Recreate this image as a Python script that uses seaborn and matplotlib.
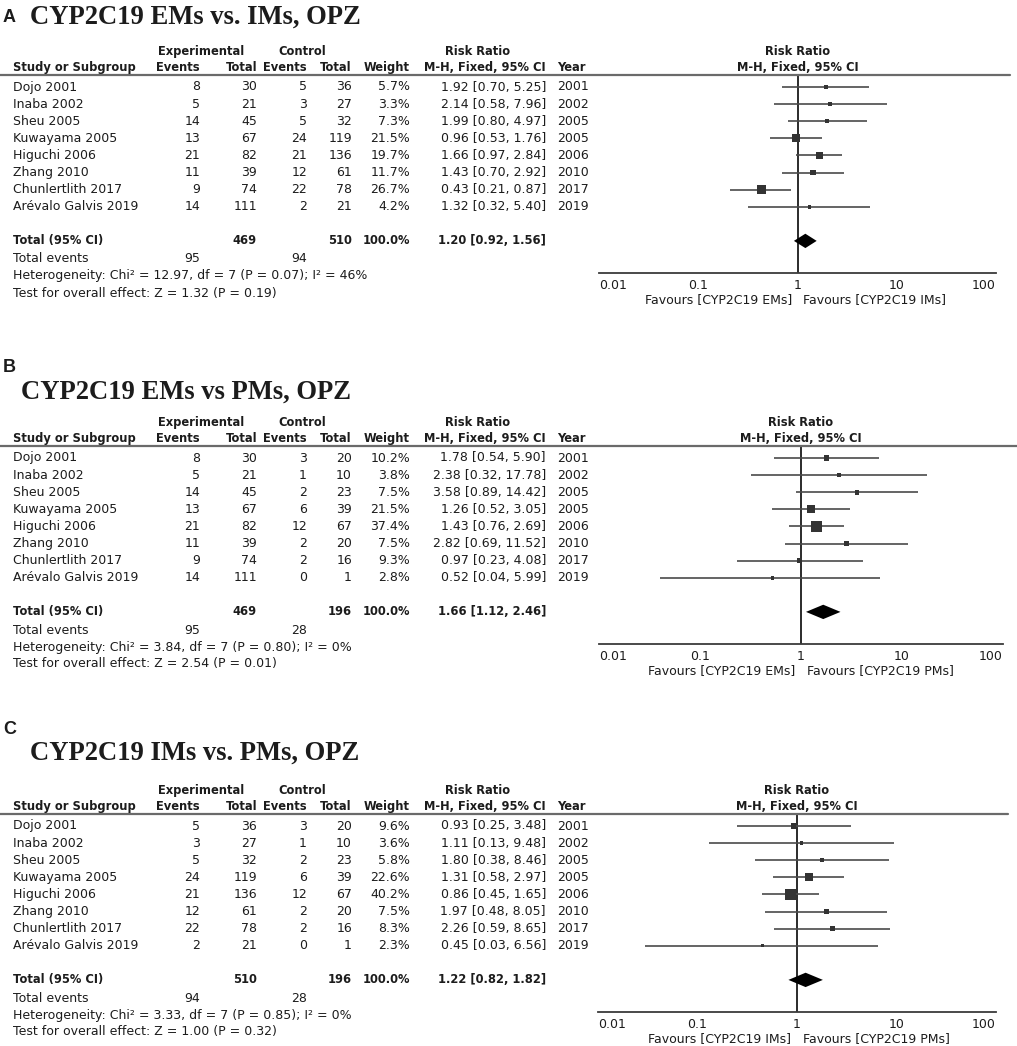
import numpy as np
import matplotlib
matplotlib.use("Agg")
import matplotlib.pyplot as plt
from matplotlib.lines import Line2D
from matplotlib.ticker import NullLocator
import seaborn as sns

# ---------------- data ----------------
studies = ["Dojo 2001", "Inaba 2002", "Sheu 2005", "Kuwayama 2005", "Higuchi 2006",
           "Zhang 2010", "Chunlertlith 2017", "Arévalo Galvis 2019"]
years = [2001, 2002, 2005, 2005, 2006, 2010, 2017, 2019]

# Panel A: EMs vs IMs
a_exp_events = [8, 5, 14, 13, 21, 11, 9, 14]
a_exp_total = [30, 21, 45, 67, 82, 39, 74, 111]
a_ctl_events = [5, 3, 5, 24, 21, 12, 22, 2]
a_ctl_total = [36, 27, 32, 119, 136, 61, 78, 21]
a_weight = [5.7, 3.3, 7.3, 21.5, 19.7, 11.7, 26.7, 4.2]
a_rr = [1.92, 2.14, 1.99, 0.96, 1.66, 1.43, 0.43, 1.32]
a_lo = [0.70, 0.58, 0.80, 0.53, 0.97, 0.70, 0.21, 0.32]
a_hi = [5.25, 7.96, 4.97, 1.76, 2.84, 2.92, 0.87, 5.40]
a_total = [1.20, 0.92, 1.56]
a_sums = [469, 510, 95, 94]
a_het = "Heterogeneity: Chi² = 12.97, df = 7 (P = 0.07); I² = 46%"
a_test = "Test for overall effect: Z = 1.32 (P = 0.19)"
a_favours = ["Favours [CYP2C19 EMs]", "Favours [CYP2C19 IMs]"]

# Panel B: EMs vs PMs
b_exp_events = [8, 5, 14, 13, 21, 11, 9, 14]
b_exp_total = [30, 21, 45, 67, 82, 39, 74, 111]
b_ctl_events = [3, 1, 2, 6, 12, 2, 2, 0]
b_ctl_total = [20, 10, 23, 39, 67, 20, 16, 1]
b_weight = [10.2, 3.8, 7.5, 21.5, 37.4, 7.5, 9.3, 2.8]
b_rr = [1.78, 2.38, 3.58, 1.26, 1.43, 2.82, 0.97, 0.52]
b_lo = [0.54, 0.32, 0.89, 0.52, 0.76, 0.69, 0.23, 0.04]
b_hi = [5.90, 17.78, 14.42, 3.05, 2.69, 11.52, 4.08, 5.99]
b_total = [1.66, 1.12, 2.46]
b_sums = [469, 196, 95, 28]
b_het = "Heterogeneity: Chi² = 3.84, df = 7 (P = 0.80); I² = 0%"
b_test = "Test for overall effect: Z = 2.54 (P = 0.01)"
b_favours = ["Favours [CYP2C19 EMs]", "Favours [CYP2C19 PMs]"]

# Panel C: IMs vs PMs
c_exp_events = [5, 3, 5, 24, 21, 12, 22, 2]
c_exp_total = [36, 27, 32, 119, 136, 61, 78, 21]
c_ctl_events = [3, 1, 2, 6, 12, 2, 2, 0]
c_ctl_total = [20, 10, 23, 39, 67, 20, 16, 1]
c_weight = [9.6, 3.6, 5.8, 22.6, 40.2, 7.5, 8.3, 2.3]
c_rr = [0.93, 1.11, 1.80, 1.31, 0.86, 1.97, 2.26, 0.45]
c_lo = [0.25, 0.13, 0.38, 0.58, 0.45, 0.48, 0.59, 0.03]
c_hi = [3.48, 9.48, 8.46, 2.97, 1.65, 8.05, 8.65, 6.56]
c_total = [1.22, 0.82, 1.82]
c_sums = [510, 196, 94, 28]
c_het = "Heterogeneity: Chi² = 3.33, df = 7 (P = 0.85); I² = 0%"
c_test = "Test for overall effect: Z = 1.00 (P = 0.32)"
c_favours = ["Favours [CYP2C19 IMs]", "Favours [CYP2C19 PMs]"]

axis_ticks = [0.01, 0.1, 1, 10, 100]
axis_labels = ["0.01", "0.1", "1", "10", "100"]

# ---------------- style ----------------
W, H = 1017, 1046
sns.set_theme(style="white")
plt.rcParams['font.family'] = ['DejaVu Sans']
TXT = "#1c1c1c"
FS = 9.0
FSB = 8.3

fig = plt.figure(figsize=(W / 100, H / 100), dpi=100)
fig.patch.set_facecolor("white")


def fx(x):
    return x / W


def fy(y):
    return 1 - y / H


def txt(x, y, s, ha="left", bold=False, size=None, family=None, va="center"):
    kw = {}
    if family:
        kw["family"] = family
    fig.text(fx(x), fy(y), s, ha=ha, va=va,
             fontsize=size if size else (FSB if bold else FS),
             fontweight="bold" if bold else "normal", color=TXT, **kw)


# column layout (pixels)
X_STUDY, X_EE, X_ET, X_CE, X_CT, X_W, X_CI, X_YEAR = 13, 200, 257, 307, 352, 410, 546, 557
ROW0, ROWH = 12, 17.1


def panel(letter, title, title_x, letter_y, title_y, y0, xl, xr, line_r,
          ee, et, ce, ct, wt, rr, lo, hi, tot, sums, het, test, favours):
    # titles
    txt(3, letter_y, letter, bold=True, size=13, family=["Liberation Sans"])
    txt(title_x, title_y, title, bold=True, size=19.2, family=["Liberation Serif"])
    # headers
    h1, h2 = y0 - 23.5, y0 - 7.5
    txt(201, h1, "Experimental", ha="center", bold=True)
    txt(302, h1, "Control", ha="center", bold=True)
    txt(478, h1, "Risk Ratio", ha="center", bold=True)
    txt(X_STUDY, h2, "Study or Subgroup", bold=True)
    txt(X_EE, h2, "Events", ha="right", bold=True)
    txt(X_ET, h2, "Total", ha="right", bold=True)
    txt(X_CE, h2, "Events", ha="right", bold=True)
    txt(X_CT, h2, "Total", ha="right", bold=True)
    txt(X_W, h2, "Weight", ha="right", bold=True)
    txt(X_CI, h2, "M-H, Fixed, 95% CI", ha="right", bold=True)
    txt(X_YEAR, h2, "Year", bold=True)
    fig.add_artist(Line2D([0, fx(line_r)], [fy(y0), fy(y0)], color="#6a6a6a", lw=1.6))
    # rows
    for i in range(len(studies)):
        y = y0 + ROW0 + ROWH * i
        txt(X_STUDY, y, studies[i])
        txt(X_EE, y, str(ee[i]), ha="right")
        txt(X_ET, y, str(et[i]), ha="right")
        txt(X_CE, y, str(ce[i]), ha="right")
        txt(X_CT, y, str(ct[i]), ha="right")
        txt(X_W, y, f"{wt[i]:.1f}%", ha="right")
        txt(X_CI, y, f"{rr[i]:.2f} [{lo[i]:.2f}, {hi[i]:.2f}]", ha="right")
        txt(X_YEAR, y, str(years[i]))
    yt = y0 + ROW0 + ROWH * 9
    txt(X_STUDY, yt, "Total (95% CI)", bold=True)
    txt(X_ET, yt, str(sums[0]), ha="right", bold=True)
    txt(X_CT, yt, str(sums[1]), ha="right", bold=True)
    txt(X_W, yt, "100.0%", ha="right", bold=True)
    txt(X_CI, yt, f"{tot[0]:.2f} [{tot[1]:.2f}, {tot[2]:.2f}]", ha="right", bold=True)
    txt(X_STUDY, y0 + 184, "Total events")
    txt(X_EE, y0 + 184, str(sums[2]), ha="right")
    txt(X_CE, y0 + 184, str(sums[3]), ha="right")
    txt(X_STUDY, y0 + 201, het)
    txt(X_STUDY, y0 + 218, test)

    # right-side header
    xmid = (xl + xr) / 2
    txt(xmid, h1, "Risk Ratio", ha="center", bold=True)
    txt(xmid, h2, "M-H, Fixed, 95% CI", ha="center", bold=True)

    # forest axes
    axh = 198
    ax = fig.add_axes([fx(xl), fy(y0 + axh), (xr - xl) / W, axh / H])
    ax.set_xscale("log")
    ax.set_xlim(0.01, 100)
    top = -ROW0 / ROWH
    bottom = (axh - ROW0) / ROWH
    ax.set_ylim(bottom, top)
    ax.patch.set_alpha(0)
    for s in ["top", "left", "right"]:
        ax.spines[s].set_visible(False)
    ax.spines["bottom"].set_color("#3a3a3a")
    ax.spines["bottom"].set_linewidth(1.3)
    ax.set_xticks(axis_ticks)
    ax.set_xticklabels(axis_labels)
    ax.xaxis.set_minor_locator(NullLocator())
    ax.set_yticks([])
    ax.tick_params(axis="x", direction="inout", length=6, width=1.2, color="#3a3a3a",
                   pad=1.5, labelsize=FS, labelcolor=TXT)
    labs = ax.get_xticklabels()
    labs[0].set_horizontalalignment("left")
    labs[-1].set_horizontalalignment("right")
    ax.grid(False)

    rows = np.arange(len(studies))
    ax.axvline(1, color="#1a1a1a", lw=1.3, zorder=1)
    ax.hlines(rows, lo, hi, color="#4a4a4a", lw=1.2, zorder=2)
    side_px = np.maximum(1.7 * np.sqrt(np.array(wt)), 3.6)
    sizes = (side_px * 0.72) ** 2
    sns.scatterplot(x=rr, y=rows, marker="s", s=sizes, color="#333333",
                    edgecolor="none", linewidth=0, ax=ax, legend=False, zorder=3)
    hh = 0.42
    ax.fill([tot[1], tot[0], tot[2], tot[0]], [9, 9 - hh, 9, 9 + hh],
            color="black", zorder=4, lw=0)
    ax.set_xlabel("")
    ax.set_ylabel("")
    ax.annotate(favours[0], xy=(1, 0), xycoords=("data", "axes fraction"),
                xytext=(-4, -19), textcoords="offset points", ha="right", va="center",
                fontsize=FS, color=TXT)
    ax.annotate(favours[1], xy=(1, 0), xycoords=("data", "axes fraction"),
                xytext=(4, -19), textcoords="offset points", ha="left", va="center",
                fontsize=FS, color=TXT)


panel("A", "CYP2C19 EMs vs. IMs, OPZ", 30, 17, 17, 75, 599, 996, 1010,
      a_exp_events, a_exp_total, a_ctl_events, a_ctl_total, a_weight, a_rr, a_lo, a_hi,
      a_total, a_sums, a_het, a_test, a_favours)
panel("B", "CYP2C19 EMs vs PMs, OPZ", 21, 368, 392, 446, 599, 1003, 1017,
      b_exp_events, b_exp_total, b_ctl_events, b_ctl_total, b_weight, b_rr, b_lo, b_hi,
      b_total, b_sums, b_het, b_test, b_favours)
panel("C", "CYP2C19 IMs vs. PMs, OPZ", 30, 730, 753, 814, 598, 996, 1008,
      c_exp_events, c_exp_total, c_ctl_events, c_ctl_total, c_weight, c_rr, c_lo, c_hi,
      c_total, c_sums, c_het, c_test, c_favours)

fig.savefig("out.png", dpi=100)
